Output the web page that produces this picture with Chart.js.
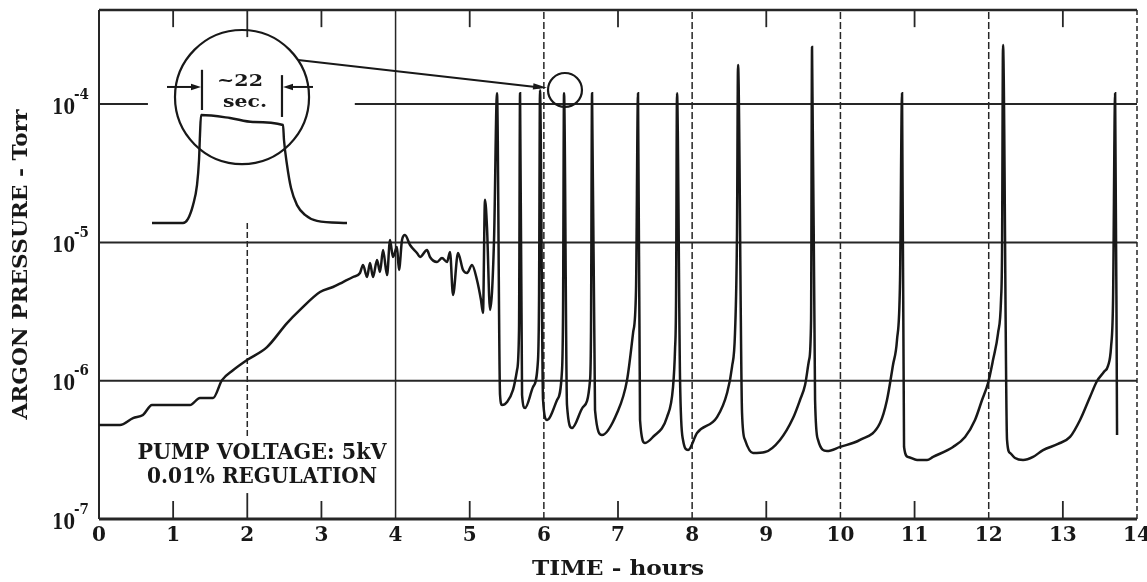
<!DOCTYPE html>
<html><head><meta charset="utf-8">
<script src="https://cdn.jsdelivr.net/npm/chart.js@4.4.1/dist/chart.umd.min.js"></script>
<style>html,body{margin:0;padding:0;background:#fff;overflow:hidden}canvas{display:block}</style>
</head><body>
<canvas id="c" width="1147" height="582" style="width:1147px;height:582px"></canvas>
<script>
// ---- data ----
const hours = [0.000,0.283,0.459,0.593,0.715,1.227,1.362,1.538,1.659,1.807,1.996,2.266,2.536,2.711,2.981,3.156,3.291,3.426,3.520,3.561,3.615,3.655,3.696,3.750,3.790,3.831,3.885,3.925,3.965,4.019,4.046,4.087,4.127,4.195,4.289,4.330,4.424,4.464,4.559,4.626,4.694,4.734,4.775,4.842,4.910,4.964,5.031,5.098,5.152,5.179,5.206,5.233,5.274,5.328,
5.368,5.409,5.436,5.503,5.584,5.638,5.665,
5.679,5.706,5.746,5.854,5.921,5.935,
5.948,5.989,6.043,6.178,6.245,6.259,
6.272,6.312,6.380,6.528,6.623,6.636,
6.650,6.690,6.784,6.987,7.122,7.203,7.243,
7.270,7.297,7.365,7.472,7.661,7.742,7.769,7.783,
7.796,7.837,7.877,7.945,8.066,8.336,8.471,8.538,8.578,8.605,
8.619,8.673,8.713,8.821,8.983,9.185,9.361,9.455,9.523,9.577,9.604,
9.617,9.658,9.698,9.819,9.995,10.264,10.534,10.628,10.709,10.763,10.804,
10.831,10.858,10.912,11.033,11.168,11.249,11.519,11.681,11.815,11.910,11.991,12.058,12.126,12.166,12.180,
12.193,12.247,12.288,12.355,12.463,12.598,12.733,12.935,13.097,13.232,13.366,13.461,13.555,13.609,13.650,13.677,
13.705,13.731];
const pressure = [4.79e-7,4.79e-7,5.37e-7,5.65e-7,6.67e-7,6.67e-7,7.50e-7,7.50e-7,1.01e-6,1.19e-6,1.41e-6,1.75e-6,2.61e-6,3.25e-6,4.38e-6,4.76e-6,5.17e-6,5.62e-6,6.01e-6,6.87e-6,5.62e-6,7.10e-6,5.62e-6,7.46e-6,6.11e-6,8.81e-6,5.81e-6,1.04e-5,7.84e-6,9.26e-6,6.31e-6,1.04e-5,1.13e-5,9.58e-6,8.38e-6,7.84e-6,8.81e-6,7.84e-6,7.22e-6,7.71e-6,7.22e-6,8.53e-6,4.17e-6,8.38e-6,6.31e-6,6.01e-6,6.87e-6,5.35e-6,3.83e-6,3.09e-6,2.03e-5,1.29e-5,3.25e-6,1.04e-5,
1.20e-4,7.88e-7,6.67e-7,7.02e-7,8.57e-7,1.19e-6,2.33e-6,
1.20e-4,7.88e-7,6.35e-7,9.00e-7,1.41e-6,3.83e-6,
1.26e-4,7.25e-7,5.20e-7,7.25e-7,1.19e-6,3.25e-6,
1.20e-4,6.67e-7,4.55e-7,6.45e-7,1.01e-6,2.33e-6,
1.20e-4,6.14e-7,4.05e-7,5.84e-7,1.01e-6,2.21e-6,4.53e-6,
1.20e-4,5.20e-7,3.55e-7,3.92e-7,5.46e-7,9.00e-7,1.67e-6,3.83e-6,
1.20e-4,1.01e-6,3.73e-7,3.15e-7,4.19e-7,5.46e-7,8.15e-7,1.26e-6,2.21e-6,1.17e-5,
1.92e-4,5.84e-7,3.73e-7,3.00e-7,3.05e-7,3.73e-7,5.37e-7,7.25e-7,9.31e-7,1.41e-6,2.75e-6,
2.59e-4,7.25e-7,3.73e-7,3.10e-7,3.32e-7,3.73e-7,4.94e-7,7.25e-7,1.30e-6,1.97e-6,5.35e-6,
1.20e-4,3.32e-7,2.81e-7,2.67e-7,2.67e-7,2.81e-7,3.32e-7,3.92e-7,5.20e-7,7.25e-7,9.62e-7,1.41e-6,2.21e-6,3.83e-6,8.81e-6,
2.67e-4,3.73e-7,3.00e-7,2.76e-7,2.67e-7,2.81e-7,3.15e-7,3.49e-7,3.92e-7,5.20e-7,7.62e-7,9.95e-7,1.16e-6,1.28e-6,1.75e-6,3.83e-6,
1.20e-4,4.05e-7];

// inset: one pressure burst, drawn in the same axes
const pulseHours = [0.715,1.133,1.200,1.268,1.322,1.349,1.362,1.376,1.767,2.077,2.482,2.495,2.536,2.590,2.671,2.779,2.940,3.345];
const pulsePressure = [1.38e-5,1.38e-5,1.48e-5,1.86e-5,2.60e-5,3.94e-5,5.98e-5,8.34e-5,7.94e-5,7.43e-5,7.06e-5,5.50e-5,3.63e-5,2.47e-5,1.86e-5,1.58e-5,1.43e-5,1.38e-5];

const hourTicks = [0,1,2,3,4,5,6,7,8,9,10,11,12,13,14];
const hourLabels = ['0','1','2','3','4','5','6','7','8','9','10','11','12','13','14'];
const decadeTicks = [1e-7,1e-6,1e-5,1e-4];
const decadeExponents = ['-7','-6','-5','-4'];

const xTitle = 'TIME - hours';
const yTitle = 'ARGON PRESSURE - Torr';
const noteLines = ['PUMP VOLTAGE: 5kV', '0.01% REGULATION'];
const insetLabels = ['~22', 'sec.'];

// ---- drawing ----
const INK = '#181818';
const FONT = '"DejaVu Serif", "Liberation Serif", serif';

function fitText(ctx, str, x, y, size, width, align, angle) {
  ctx.save();
  ctx.font = 'bold ' + size + 'px ' + FONT;
  ctx.textAlign = align || 'center';
  ctx.textBaseline = 'middle';
  ctx.fillStyle = INK;
  const w = ctx.measureText(str).width;
  ctx.translate(x, y);
  if (angle) ctx.rotate(angle);
  ctx.scale(width ? width / w : 1, 1);
  ctx.fillText(str, 0, 0);
  ctx.restore();
}

const paper = {
  id: 'paper',
  beforeDraw(chart) {
    const ctx = chart.ctx;
    ctx.save(); ctx.fillStyle = '#fff'; ctx.fillRect(0, 0, chart.width, chart.height); ctx.restore();
  },
  beforeDatasetsDraw(chart) {
    const ctx = chart.ctx, xs = chart.scales.x, ys = chart.scales.y;
    const X = v => xs.getPixelForValue(v), Y = v => ys.getPixelForValue(v);
    const top = ys.max, bot = ys.min;
    ctx.save();
    ctx.strokeStyle = '#262626';
    ctx.lineCap = 'butt';
    function seg(x1, y1, x2, y2, w, dash) {
      ctx.beginPath(); ctx.setLineDash(dash || []); ctx.lineWidth = w;
      ctx.moveTo(X(x1), Y(y1)); ctx.lineTo(X(x2), Y(y2)); ctx.stroke();
    }
    // decade lines
    seg(0, 1e-6, 14, 1e-6, 2);
    seg(0, 1e-5, 14, 1e-5, 2);
    seg(0, 1e-4, 0.66, 1e-4, 2);
    seg(3.45, 1e-4, 14, 1e-4, 2);
    // hour lines and ticks
    hourTicks.forEach(h => {
      if (h === 0 || h === 14) return;
      if (h % 2 === 1) {
        seg(h, top, h, 3.6e-4, 1.8);
        seg(h, bot, h, 1.35e-7, 1.8);
      } else if (h === 2) {
        seg(h, top, h, 3.05e-4, 1.8);
        seg(h, 1.38e-5, h, 3.92e-7, 1.5, [6, 3]);
        seg(h, 1.54e-7, h, bot, 1.8);
      } else {
        seg(h, bot, h, top, 1.5, h === 4 ? [] : [7, 3]);
      }
    });
    // frame
    seg(0, bot, 0, top, 2);
    seg(0, top, 14, top, 2.5);
    seg(0, bot, 14, bot, 3);
    seg(14, bot, 14, top, 1.5, [5, 3]);
    ctx.restore();
  },
  afterDatasetsDraw(chart) {
    const ctx = chart.ctx, xs = chart.scales.x, ys = chart.scales.y, ca = chart.chartArea;
    const X = v => xs.getPixelForValue(v), Y = v => ys.getPixelForValue(v);
    ctx.save();
    ctx.strokeStyle = INK; ctx.fillStyle = INK; ctx.setLineDash([]);
    function circle(h, p, rh, w) {
      const r = X(h + rh) - X(h);
      ctx.beginPath(); ctx.lineWidth = w; ctx.arc(X(h), Y(p), r, 0, Math.PI * 2); ctx.stroke();
    }
    function line(h1, p1, h2, p2, w) {
      ctx.beginPath(); ctx.lineWidth = w; ctx.moveTo(X(h1), Y(p1)); ctx.lineTo(X(h2), Y(p2)); ctx.stroke();
    }
    function head(h1, p1, h2, p2, len, hw) {
      const x1 = X(h1), y1 = Y(p1), x2 = X(h2), y2 = Y(p2);
      const a = Math.atan2(y2 - y1, x2 - x1);
      ctx.beginPath();
      ctx.moveTo(x2, y2);
      ctx.lineTo(x2 - len * Math.cos(a) + hw * Math.sin(a), y2 - len * Math.sin(a) - hw * Math.cos(a));
      ctx.lineTo(x2 - len * Math.cos(a) - hw * Math.sin(a), y2 - len * Math.sin(a) + hw * Math.cos(a));
      ctx.closePath(); ctx.fill();
    }
    // inset circle, small circle and leader
    circle(1.929, 1.125e-4, 0.904, 2.2);
    circle(6.285, 1.265e-4, 0.229, 2.2);
    line(2.684, 2.08e-4, 5.95, 1.32e-4, 2);
    head(2.684, 2.08e-4, 6.043, 1.31e-4, 14, 3.2);
    // width markers
    line(1.389, 1.77e-4, 1.389, 9.06e-5, 2.2);
    line(2.468, 1.62e-4, 2.468, 8.07e-5, 2.2);
    line(0.917, 1.33e-4, 1.30, 1.33e-4, 2);
    head(0.917, 1.33e-4, 1.376, 1.33e-4, 10, 3.2);
    line(2.886, 1.33e-4, 2.56, 1.33e-4, 2);
    head(2.886, 1.33e-4, 2.482, 1.33e-4, 10, 3.2);
    fitText(ctx, insetLabels[0], X(1.902), Y(1.45e-4), 17, 46);
    fitText(ctx, insetLabels[1], X(1.969), Y(1.02e-4), 16, 44);
    // note
    fitText(ctx, noteLines[0], X(2.199), Y(3.0e-7), 22, 249);
    fitText(ctx, noteLines[1], X(2.199), Y(2.01e-7), 22, 230);
    // x tick labels
    xs.ticks.forEach(t => {
      const idx = hourTicks.indexOf(t.value);
      if (idx < 0) return;
      fitText(ctx, hourLabels[idx], X(t.value), ca.bottom + 17, 20, 0);
    });
    // y tick labels: 10 with superscript exponent
    ys.ticks.forEach(t => {
      const idx = decadeTicks.indexOf(t.value);
      if (idx < 0) return;
      const py = Y(t.value);
      fitText(ctx, '10', ca.left - 24, py + 4, 22, 23, 'right');
      fitText(ctx, decadeExponents[idx], ca.left - 25, py - 9, 14, 15, 'left');
    });
    // axis titles
    fitText(ctx, xTitle, (ca.left + ca.right) / 2, ca.bottom + 51, 21, 172);
    fitText(ctx, yTitle, ca.left - 77, (ca.top + ca.bottom) / 2, 21, 310, 'center', -Math.PI / 2);
    ctx.restore();
  }
};

new Chart(document.getElementById('c'), {
  type: 'line',
  data: {
    datasets: [
      {
        label: 'Argon pressure',
        data: hours.map((h, i) => ({ x: h, y: pressure[i] })),
        borderColor: INK, borderWidth: 2.5, pointRadius: 0,
        cubicInterpolationMode: 'monotone', fill: false
      },
      {
        label: 'Burst detail',
        data: pulseHours.map((h, i) => ({ x: h, y: pulsePressure[i] })),
        borderColor: INK, borderWidth: 2.4, pointRadius: 0,
        cubicInterpolationMode: 'monotone', fill: false
      }
    ]
  },
  options: {
    responsive: false, animation: false, devicePixelRatio: 1,
    layout: { padding: { top: 10, right: 10, left: 0, bottom: 0 } },
    plugins: { legend: { display: false }, tooltip: { enabled: false }, title: { display: false } },
    scales: {
      x: {
        type: 'linear', min: 0, max: 14,
        ticks: { stepSize: 1, display: false },
        grid: { display: false }, border: { display: false },
        afterFit: s => { s.height = 63; }
      },
      y: {
        type: 'logarithmic', min: 1e-7, max: 4.79e-4,
        ticks: { display: false },
        afterBuildTicks: s => { s.ticks = decadeTicks.map(v => ({ value: v })); },
        grid: { display: false }, border: { display: false },
        afterFit: s => { s.width = 99; }
      }
    }
  },
  plugins: [paper]
});
</script>
</body></html>
